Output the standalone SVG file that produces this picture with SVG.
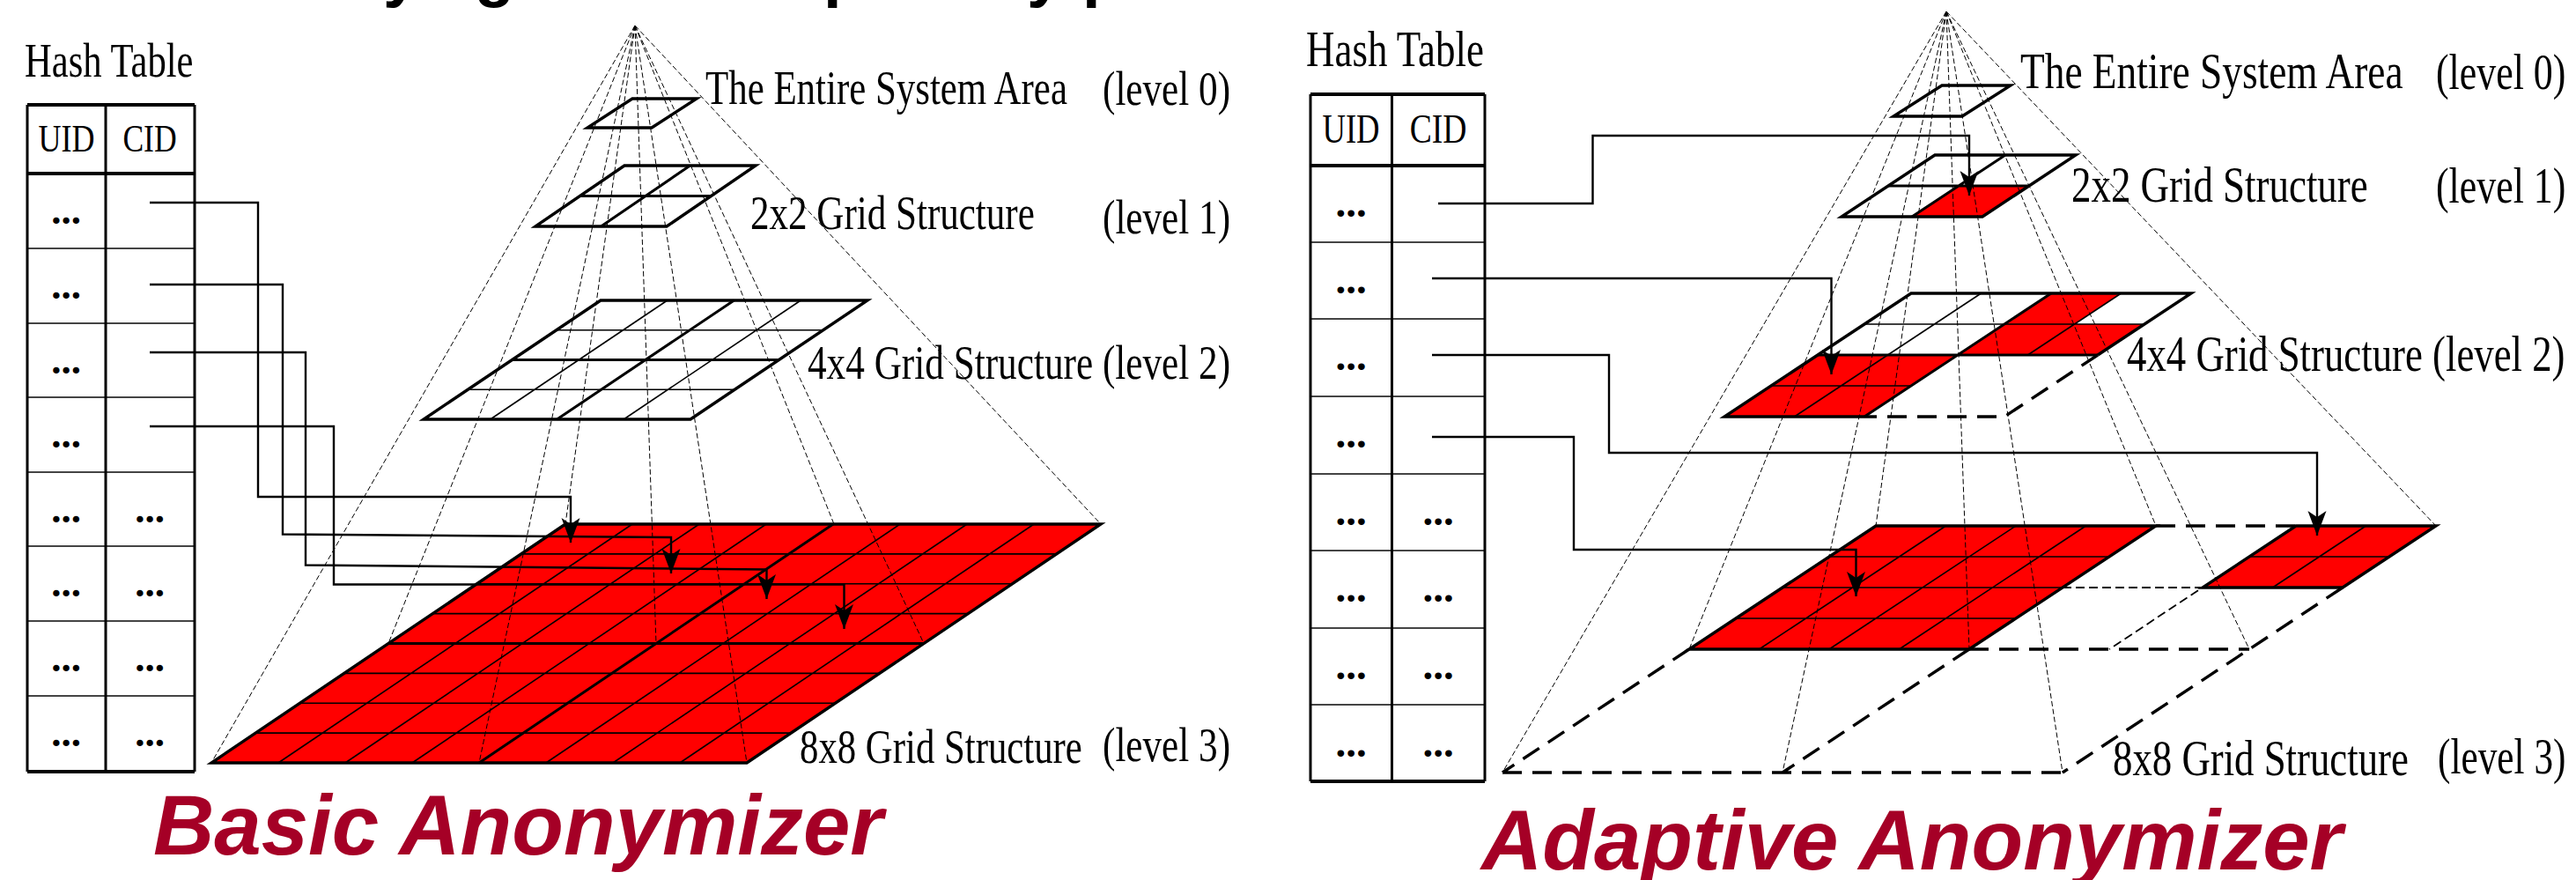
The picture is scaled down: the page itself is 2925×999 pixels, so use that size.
<svg xmlns="http://www.w3.org/2000/svg" width="2925" height="999" viewBox="0 0 2925 999">
<style>
.lbl{font-family:"Liberation Serif","Times New Roman",serif;fill:#000}
.ttl{font-family:"Liberation Sans",Arial,sans-serif;font-weight:bold;font-size:74px;fill:#000}
.big{font-family:"Liberation Sans",Arial,sans-serif;font-weight:bold;font-style:italic;font-size:96px;fill:#A50026}
.dots{font-family:"Liberation Serif","Times New Roman",serif;font-weight:bold;text-anchor:middle;fill:#000}
.thin{fill:none;stroke:#000;stroke-width:1.6;vector-effect:non-scaling-stroke}
.mid{fill:none;stroke:#000;stroke-width:3;vector-effect:non-scaling-stroke}
.bord{fill:none;stroke:#000;stroke-width:3.4;vector-effect:non-scaling-stroke;stroke-linejoin:miter}
.wf{fill:#fff;stroke:none}
.rf{fill:#f00;stroke:none}
.pyr{fill:none;stroke:#000;stroke-width:1;stroke-dasharray:6 3}
.dthick{fill:none;stroke:#000;stroke-width:3.4;stroke-dasharray:22 12}
.dthin{fill:none;stroke:#000;stroke-width:1.8;stroke-dasharray:10 5}
.tb{fill:none;stroke:#000;stroke-width:3}
.tbh{fill:none;stroke:#000;stroke-width:4}
.tr{fill:none;stroke:#444;stroke-width:1.8}
.ca{fill:none;stroke:#000;stroke-width:2.4;marker-end:url(#ah)}
</style>
<defs>
<marker id="ah" markerUnits="userSpaceOnUse" orient="auto" refX="28" refY="10.5" markerWidth="30" markerHeight="21" viewBox="0 0 30 21" overflow="visible">
<path d="M0,0 L28,10.5 L0,21 L7,10.5 Z" fill="#000"/>
</marker>
</defs>
<rect width="2925" height="999" fill="#fff"/>

<g id="title-fragments">
<text class="ttl" x="435" y="-6">y</text>
<text class="ttl" x="539" y="-6">g</text>
<text class="ttl" x="935" y="-6">p</text>
<text class="ttl" x="1166" y="-6">y</text>
<text class="ttl" x="1229" y="-6">p</text>
</g>

<!-- ================= LEFT: BASIC ANONYMIZER ================= -->
<g id="left-hash-table">
<text class="lbl" transform="translate(28,87) scale(0.775,1)" font-size="55">Hash Table</text>
<path class="tr" d="M31,282H221M31,367H221M31,451H221M31,536H221M31,620H221M31,705H221M31,790H221"/>
<path class="tb" d="M120,119V876M31,119V876M221,119V876"/>
<path class="tbh" d="M31,119H221M31,197H221M31,876H221"/>
<text class="lbl" transform="translate(75.5,172) scale(0.8,1)" font-size="45" text-anchor="middle">UID</text>
<text class="lbl" transform="translate(170,172) scale(0.79,1)" font-size="45" text-anchor="middle">CID</text>
<g class="dots" font-size="45">
<text x="75" y="254">...</text>
<text x="75" y="339">...</text>
<text x="75" y="424">...</text>
<text x="75" y="508">...</text>
<text x="75" y="593">...</text><text x="170" y="593">...</text>
<text x="75" y="677">...</text><text x="170" y="677">...</text>
<text x="75" y="762">...</text><text x="170" y="762">...</text>
<text x="75" y="847">...</text><text x="170" y="847">...</text>
</g>
</g>

<g id="left-level0">
<g transform="matrix(73 0 -51 33 718 112)">
<path class="wf" d="M0,0H1V1H0Z"/>
<path class="bord" d="M0,0H1V1H0Z"/>
</g>
</g>
<g id="left-level1">
<g transform="matrix(74.5 0 -50.5 34.5 709 188)">
<path class="wf" d="M0,0H2V2H0Z"/>
<path class="mid" d="M0,1H2M1,0V2"/>
<path class="bord" d="M0,0H2V2H0Z"/>
</g>
</g>
<g id="left-level2">
<g transform="matrix(75.75 0 -50.25 33.75 682 341)">
<path class="wf" d="M0,0H4V4H0Z"/>
<path class="thin" d="M0,1H4M0,3H4M1,0V4M3,0V4"/>
<path class="mid" d="M0,2H4M2,0V4"/>
<path class="bord" d="M0,0H4V4H0Z"/>
</g>
</g>
<g id="left-level3">
<g transform="matrix(76 0 -50.25 33.875 642 595)">
<path class="rf" d="M0,0H8V8H0Z"/>
<path class="thin" d="M0,1H8M0,2H8M0,3H8M0,5H8M0,6H8M0,7H8M1,0V8M2,0V8M3,0V8M5,0V8M6,0V8M7,0V8"/>
<path class="mid" d="M0,4H8M4,0V8"/>
<path class="bord" d="M0,0H8V8H0Z"/>
</g>
</g>

<g id="left-pyramid-lines">
<path class="pyr" d="M721,29L642,595M721,29L947,595M721,29L1250,595M721,29L441,730.5M721,29L745,730.5M721,29L1049,730.5M721,29L240,866M721,29L544,866M721,29L848,866"/>
</g>

<g id="left-labels">
<text class="lbl" transform="translate(801,118) scale(0.78,1)" font-size="55">The Entire System Area</text>
<text class="lbl" transform="translate(1252,119) scale(0.785,1)" font-size="55">(level 0)</text>
<text class="lbl" transform="translate(852,260) scale(0.783,1)" font-size="55">2x2 Grid Structure</text>
<text class="lbl" transform="translate(1252,265) scale(0.785,1)" font-size="55">(level 1)</text>
<text class="lbl" transform="translate(917,430) scale(0.786,1)" font-size="55">4x4 Grid Structure (level 2)</text>
<text class="lbl" transform="translate(908,866) scale(0.778,1)" font-size="55">8x8 Grid Structure</text>
<text class="lbl" transform="translate(1252,864) scale(0.785,1)" font-size="55">(level 3)</text>
</g>

<g id="left-caption">
<text class="big" x="174" y="970">Basic Anonymizer</text>
</g>

<!-- ================= RIGHT: ADAPTIVE ANONYMIZER ================= -->
<g id="right-hash-table">
<text class="lbl" transform="translate(1483,75) scale(0.775,1)" font-size="58">Hash Table</text>
<path class="tr" d="M1488,275H1686M1488,362H1686M1488,450H1686M1488,538H1686M1488,625H1686M1488,713H1686M1488,800H1686"/>
<path class="tb" d="M1580.5,107V887M1488,107V887M1686,107V887"/>
<path class="tbh" d="M1488,107H1686M1488,188H1686M1488,887H1686"/>
<text class="lbl" transform="translate(1534,162) scale(0.78,1)" font-size="47" text-anchor="middle">UID</text>
<text class="lbl" transform="translate(1633,162) scale(0.8,1)" font-size="47" text-anchor="middle">CID</text>
<g class="dots" font-size="47">
<text x="1534" y="246">...</text>
<text x="1534" y="333">...</text>
<text x="1534" y="420">...</text>
<text x="1534" y="508">...</text>
<text x="1534" y="596">...</text><text x="1633" y="596">...</text>
<text x="1534" y="683">...</text><text x="1633" y="683">...</text>
<text x="1534" y="771">...</text><text x="1633" y="771">...</text>
<text x="1534" y="859">...</text><text x="1633" y="859">...</text>
</g>
</g>

<g id="right-level0">
<g transform="matrix(78 0 -55 35 2205 97)">
<path class="wf" d="M0,0H1V1H0Z"/>
<path class="bord" d="M0,0H1V1H0Z"/>
</g>
</g>
<g id="right-level1">
<g transform="matrix(80 0 -53 35 2197 176)">
<path class="wf" d="M0,0H2V2H0Z"/>
<path class="rf" d="M1,1H2V2H1Z"/>
<path class="mid" d="M0,1H2M1,0V2"/>
<path class="bord" d="M0,0H2V2H0Z"/>
</g>
</g>
<g id="right-level2">
<g transform="matrix(79.5 0 -53 35 2170 333)">
<path class="wf" d="M0,0H4V2H2V4H0Z"/>
<path class="rf" d="M2,0H3V1H2Z M2,1H4V2H2Z M0,2H2V4H0Z"/>
<path class="thin" d="M0,1H4M0,3H2M1,0V4M3,0V2"/>
<path class="mid" d="M0,2H4M2,0V4"/>
<path class="bord" d="M2,4H0V0H4V2"/>
</g>
<path class="dthick" d="M2382,403L2276,473L2117,473"/>
</g>
<g id="right-level3">
<g transform="matrix(79.5 0 -53 35 2130 597)">
<path class="rf" d="M0,0H4V4H0Z M6,0H8V2H6Z"/>
<path class="thin" d="M0,1H4M0,2H4M0,3H4M1,0V4M2,0V4M3,0V4M6,1H8M7,0V2"/>
<path class="bord" d="M0,0H4V4H0Z"/>
<path class="bord" d="M6,0H8V2H6Z"/>
</g>
<path class="dthick" d="M2448,597H2607M2660,667L2342,877M1918,737L1706,877M1706,877H2342M2236,737L2024,877M2236,737H2554"/>
<path class="dthin" d="M2342,667H2501L2395,737"/>
</g>

<g id="right-pyramid-lines">
<path class="pyr" d="M2210,13L2130,597M2210,13L2448,597M2210,13L2766,597M2210,13L1918,737M2210,13L2236,737M2210,13L2554,737M2210,13L1706,877M2210,13L2024,877M2210,13L2342,877"/>
</g>

<g id="right-labels">
<text class="lbl" transform="translate(2294,100) scale(0.796,1)" font-size="57">The Entire System Area</text>
<text class="lbl" transform="translate(2766,101) scale(0.77,1)" font-size="57">(level 0)</text>
<text class="lbl" transform="translate(2352,229) scale(0.788,1)" font-size="57">2x2 Grid Structure</text>
<text class="lbl" transform="translate(2766,230) scale(0.77,1)" font-size="57">(level 1)</text>
<text class="lbl" transform="translate(2415,421) scale(0.786,1)" font-size="57">4x4 Grid Structure (level 2)</text>
<text class="lbl" transform="translate(2399,880) scale(0.786,1)" font-size="57">8x8 Grid Structure</text>
<text class="lbl" transform="translate(2768,878) scale(0.76,1)" font-size="57">(level 3)</text>
</g>

<g id="right-caption">
<text class="big" x="1682" y="987">Adaptive Anonymizer</text>
</g>

<!-- ================= CONNECTORS ================= -->
<g id="connectors">
<path class="ca" d="M170,230H293V564H648V616"/>
<path class="ca" d="M170,323H321V606.5L762,610V651"/>
<path class="ca" d="M170,400H347V641.5L870.5,646.5V680"/>
<path class="ca" d="M170,484H379V663.5H958.5V714"/>
<path class="ca" d="M1633,231H1808.5V154H2236V222"/>
<path class="ca" d="M1626,316H2079.5V425"/>
<path class="ca" d="M1626,403H1827V514H2631V608"/>
<path class="ca" d="M1626,496H1787V624H2107.5V677"/>
</g>
</svg>
